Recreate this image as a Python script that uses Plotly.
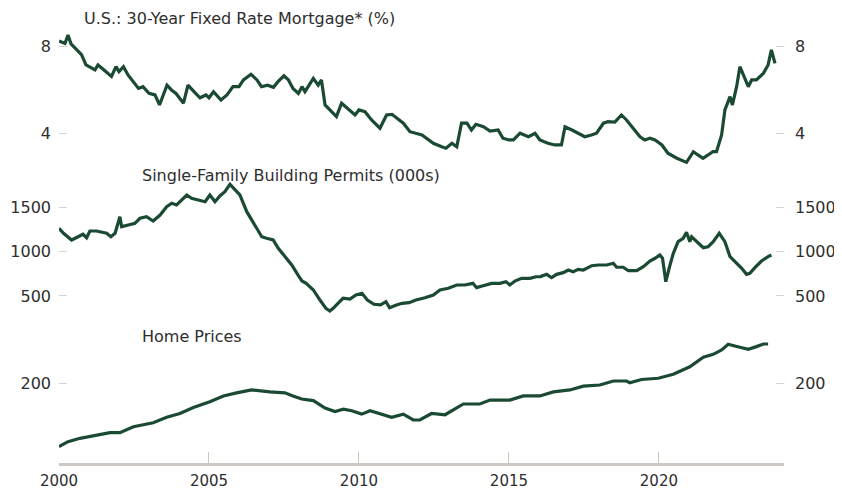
import plotly.graph_objects as go

# ---------------- data ----------------
mort_year = [2000.0, 2000.2, 2000.3, 2000.4, 2000.75, 2000.9, 2001.2, 2001.3, 2001.5, 2001.75,
             2001.9, 2002.0, 2002.15, 2002.3, 2002.65, 2002.8, 2003.0, 2003.2, 2003.35, 2003.6,
             2003.75, 2003.9, 2004.15, 2004.3, 2004.5, 2004.7, 2004.9, 2005.0, 2005.15, 2005.4,
             2005.6, 2005.8, 2006.0, 2006.15, 2006.4, 2006.6, 2006.75, 2006.95, 2007.15, 2007.3,
             2007.5, 2007.65, 2007.8, 2007.98, 2008.1, 2008.2, 2008.48, 2008.64, 2008.75, 2008.87,
             2009.03, 2009.25, 2009.42, 2009.7, 2009.87, 2010.0, 2010.2, 2010.42, 2010.7, 2010.92,
             2011.1, 2011.48, 2011.7, 2012.1, 2012.48, 2012.76, 2012.9, 2013.1, 2013.26, 2013.42,
             2013.6, 2013.75, 2013.9, 2014.15, 2014.37, 2014.64, 2014.8, 2015.0, 2015.15, 2015.37,
             2015.65, 2015.87, 2016.03, 2016.3, 2016.53, 2016.75, 2016.87, 2017.1, 2017.3, 2017.53,
             2017.75, 2017.92, 2018.15, 2018.3, 2018.53, 2018.75, 2018.92, 2019.2, 2019.37, 2019.53,
             2019.7, 2019.87, 2020.1, 2020.3, 2020.6, 2020.92, 2021.15, 2021.3, 2021.47, 2021.64,
             2021.8, 2021.92, 2022.09, 2022.2, 2022.37, 2022.45, 2022.59, 2022.7, 2022.87, 2022.98,
             2023.09, 2023.25, 2023.48, 2023.64, 2023.75, 2023.87]
mort_rate = [8.23, 8.12, 8.5, 8.1, 7.6, 7.13, 6.9, 7.13, 6.9, 6.6,
             7.05, 6.82, 7.05, 6.67, 6.05, 6.13, 5.82, 5.75, 5.29, 6.2,
             5.98, 5.82, 5.37, 6.2, 5.9, 5.62, 5.75, 5.62, 5.9, 5.52,
             5.75, 6.13, 6.13, 6.44, 6.7, 6.44, 6.13, 6.2, 6.1, 6.36,
             6.63, 6.44, 6.05, 5.82, 6.13, 5.9, 6.51, 6.2, 6.44, 5.29,
             5.06, 4.75, 5.37, 5.06, 4.83, 5.06, 4.98, 4.6, 4.22, 4.83,
             4.86, 4.45, 4.06, 3.91, 3.53, 3.37, 3.3, 3.53, 3.37, 4.45,
             4.45, 4.14, 4.4, 4.29, 4.09, 4.14, 3.76, 3.68, 3.68, 3.99,
             3.83, 3.99, 3.68, 3.53, 3.45, 3.45, 4.29, 4.14, 3.99, 3.83,
             3.91, 3.99, 4.45, 4.52, 4.5, 4.83, 4.6, 4.14, 3.83, 3.68,
             3.76, 3.68, 3.45, 3.07, 2.84, 2.65, 3.14, 2.99, 2.84, 2.99,
             3.14, 3.14, 3.91, 5.06, 5.67, 5.29, 6.13, 7.05, 6.51, 6.13,
             6.44, 6.44, 6.74, 7.13, 7.82, 7.2]

permit_year = [2000.0, 2000.15, 2000.42, 2000.64, 2000.8, 2000.92, 2001.03, 2001.25, 2001.42, 2001.59,
               2001.73, 2001.87, 2002.03, 2002.09, 2002.31, 2002.53, 2002.7, 2002.92, 2003.14, 2003.37,
               2003.59, 2003.76, 2003.92, 2004.09, 2004.26, 2004.42, 2004.64, 2004.87, 2005.03, 2005.2,
               2005.37, 2005.53, 2005.7, 2005.87, 2006.03, 2006.26, 2006.53, 2006.76, 2006.92, 2007.14,
               2007.31, 2007.53, 2007.76, 2007.98, 2008.1, 2008.24, 2008.48, 2008.7, 2008.9, 2009.03,
               2009.14, 2009.3, 2009.47, 2009.7, 2009.9, 2010.1, 2010.28, 2010.5, 2010.72, 2010.9,
               2011.02, 2011.25, 2011.44, 2011.67, 2011.9, 2012.2, 2012.48, 2012.7, 2012.98, 2013.26,
               2013.53, 2013.8, 2013.92, 2014.14, 2014.42, 2014.7, 2014.9, 2015.03, 2015.2, 2015.42,
               2015.7, 2015.9, 2016.05, 2016.26, 2016.42, 2016.59, 2016.81, 2016.98, 2017.14, 2017.31,
               2017.48, 2017.76, 2017.98, 2018.26, 2018.48, 2018.59, 2018.81, 2018.98, 2019.26, 2019.48,
               2019.7, 2019.87, 2020.03, 2020.12, 2020.23, 2020.37, 2020.48, 2020.64, 2020.81, 2020.92,
               2021.03, 2021.09, 2021.26, 2021.48, 2021.64, 2021.81, 2022.01, 2022.2, 2022.37, 2022.59,
               2022.76, 2022.92, 2023.03, 2023.2, 2023.42, 2023.64, 2023.75]
permit_val = [1267, 1210, 1134, 1171, 1199, 1160, 1236, 1236, 1221, 1210,
              1171, 1210, 1398, 1285, 1304, 1323, 1380, 1398, 1349, 1417,
              1511, 1550, 1531, 1587, 1644, 1606, 1587, 1568, 1644, 1568,
              1636, 1681, 1765, 1700, 1644, 1455, 1304, 1171, 1153, 1134,
              1040, 945, 851, 730, 670, 643, 568, 454, 360, 330,
              360, 417, 474, 465, 511, 530, 454, 406, 398, 435,
              367, 398, 417, 424, 454, 480, 511, 568, 587, 624,
              624, 643, 594, 616, 643, 643, 662, 624, 669, 700,
              700, 718, 720, 745, 707, 745, 764, 794, 775, 802,
              794, 843, 851, 851, 870, 825, 825, 786, 786, 832,
              896, 927, 964, 927, 662, 851, 983, 1115, 1153, 1221,
              1115, 1171, 1115, 1047, 1058, 1115, 1210, 1115, 945, 870,
              813, 745, 757, 820, 896, 945, 964]

price_year = [2000.0, 2000.3, 2000.7, 2001.25, 2001.7, 2002.03, 2002.48, 2003.14, 2003.59, 2004.03,
              2004.48, 2005.03, 2005.48, 2005.92, 2006.42, 2007.03, 2007.53, 2007.8, 2008.09, 2008.48,
              2008.87, 2009.2, 2009.48, 2009.76, 2010.09, 2010.37, 2010.76, 2011.09, 2011.48, 2011.81,
              2012.03, 2012.42, 2012.87, 2013.48, 2014.03, 2014.37, 2015.03, 2015.48, 2016.03, 2016.48,
              2017.03, 2017.48, 2018.03, 2018.48, 2018.92, 2019.03, 2019.42, 2019.98, 2020.48, 2021.03,
              2021.48, 2021.81, 2022.09, 2022.31, 2022.53, 2022.98, 2023.25, 2023.48, 2023.64]
price_val = [97.8, 103.4, 107.4, 111.5, 114.5, 114.5, 122.4, 128, 136, 142,
             152, 162, 173, 179, 185, 181, 179, 173, 167, 164,
             151, 145, 149, 146.5, 141, 146.5, 140, 136, 141, 132,
             132, 142, 140, 158, 158, 165, 165, 173, 173, 181,
             185, 193, 195.6, 204.5, 204.5, 200.7, 208, 211, 220.5, 240,
             267, 276, 290, 309, 303, 292, 301, 310, 310]

x_ticks = [2000, 2005, 2010, 2015, 2020]
mort_ticks = [4, 8]
permit_ticks = [500, 1000, 1500]
price_ticks = [200]

titles = ["U.S.: 30-Year Fixed Rate Mortgage* (%)",
          "Single-Family Building Permits (000s)",
          "Home Prices"]

# ---------------- layout helpers ----------------
# The page body adds an 8px offset, so the figure is made 8px smaller each
# way and its margins are shifted so the plot area lands where the
# reference has it (reference plot area: x 59..784, y 10..463).
OFF = 8
W, H = 842 - OFF, 490 - OFF
REF_L, REF_R, REF_T, REF_B = 59, 784, 10, 463
ML, MR = REF_L - OFF, W - (REF_R - OFF)
MT, MB = REF_T - OFF, H - (REF_B - OFF)
PH = REF_B - REF_T
PW = REF_R - REF_L


def dom(ytop, ybot):
    return [(REF_B - ybot) / PH, (REF_B - ytop) / PH]


def py(ypix):
    return (REF_B - ypix) / PH


def px(xpix):
    return (xpix - REF_L) / PW


LINE = dict(color="#1b4a33", width=3.2)
FONT = "DejaVu Sans"
TXT = "#2e2e2e"
TICKC = "#d4d4d4"

fig = go.Figure()
fig.add_trace(go.Scatter(x=mort_year, y=mort_rate, mode="lines", line=LINE,
                         xaxis="x", yaxis="y", showlegend=False))
fig.add_trace(go.Scatter(x=permit_year, y=permit_val, mode="lines", line=LINE,
                         xaxis="x", yaxis="y2", showlegend=False))
fig.add_trace(go.Scatter(x=price_year, y=price_val, mode="lines", line=LINE,
                         xaxis="x", yaxis="y3", showlegend=False))
# invisible companions so the right-hand mirrored axes are drawn
for yname, xs, ys in (("y4", mort_year, mort_rate), ("y5", permit_year, permit_val),
                      ("y6", price_year, price_val)):
    fig.add_trace(go.Scatter(x=xs, y=ys, mode="lines", line=dict(width=0), opacity=0,
                             hoverinfo="skip", showlegend=False, xaxis="x", yaxis=yname))

r1 = [2.391, 8.966]
r2 = [250.3, 1813.8]
r3 = [1.9106, 2.5597]


def yax(rng, ticks, side, d=None, overlay=None, typ="linear"):
    a = dict(range=rng, tickvals=ticks, ticks="inside", ticklen=8, tickwidth=1,
             tickcolor=TICKC, showline=False, showgrid=False, zeroline=False,
             tickfont=dict(family=FONT, size=16, color=TXT), side=side, anchor="x",
             type=typ, ticklabelstandoff=(7 if side == "left" else 10),
             automargin=False, fixedrange=True)
    if d is not None:
        a["domain"] = d
    if overlay is not None:
        a["overlaying"] = overlay
    return a


fig.update_layout(
    width=W, height=H,
    margin=dict(l=ML, r=MR, t=MT, b=MB, autoexpand=False),
    paper_bgcolor="white", plot_bgcolor="white",
    showlegend=False,
    xaxis=dict(range=[2000, 2024.17], tickvals=x_ticks, ticks="inside", ticklen=11,
               tickwidth=1, tickcolor="#c9c5bf", showline=True, linewidth=3,
               linecolor="#cdc9c2", showgrid=False, zeroline=False, anchor="y3",
               tickfont=dict(family=FONT, size=15, color=TXT), ticklabelstandoff=2,
               automargin=False),
    yaxis=yax(r1, mort_ticks, "left", d=dom(25, 168)),
    yaxis2=yax(r2, permit_ticks, "left", d=dom(180, 318)),
    yaxis3=yax(r3, price_ticks, "left", d=dom(330, REF_B), typ="log"),
    yaxis4=yax(r1, mort_ticks, "right", overlay="y"),
    yaxis5=yax(r2, permit_ticks, "right", overlay="y2"),
    yaxis6=yax(r3, price_ticks, "right", overlay="y3", typ="log"),
)

for t, (xp, yp) in zip(titles, ((82, 19), (140, 175), (140, 336))):
    fig.add_annotation(text=t, xref="paper", yref="paper", x=px(xp), y=py(yp),
                       xanchor="left", yanchor="middle", showarrow=False,
                       font=dict(family=FONT, size=16, color=TXT))

fig.write_html("out.html")
